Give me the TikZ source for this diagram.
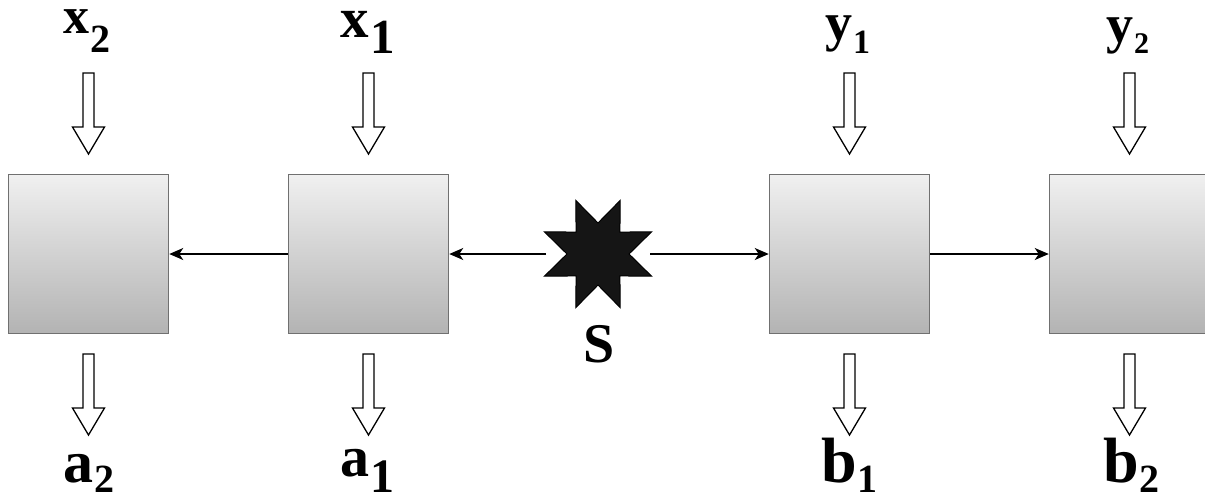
\documentclass[tikz,border=0pt]{standalone}
\usepackage{fontspec}
\setmainfont{Liberation Serif}
\usetikzlibrary{arrows.meta}
\definecolor{boxtop}{HTML}{F0F0F0}
\definecolor{boxbot}{HTML}{B3B3B3}
\definecolor{boxline}{HTML}{707070}
\definecolor{starfill}{HTML}{151515}
% main text, main size, sub text, sub size, drop, kern
\newcommand{\lbl}[6]{{\fontsize{#2}{#2}\selectfont\bfseries\strut #1}\kern#6pt\raisebox{-#5pt}{\fontsize{#4}{#4}\selectfont\bfseries\strut #3}}
\begin{document}
\begin{tikzpicture}[x=1pt,y=-1pt,
  blk/.style={draw=boxline, line width=1.5pt, top color=boxtop, bottom color=boxbot,
    minimum width=160pt, minimum height=159pt, inner sep=0pt},
  conn/.style={draw=black, line width=1.3pt, -{Stealth[length=14pt,width=12pt,inset=4pt]}},
  lab/.style={anchor=base west, inner xsep=4pt, inner ysep=4pt, outer sep=0pt},
  hollow/.pic={\draw[line width=1.3pt, fill=white, line join=miter]
     (-5.5,0) -- (5.5,0) -- (5.5,54) -- (16,54) -- (0,81) -- (-16,54) -- (-5.5,54) -- cycle;}
]
\useasboundingbox (0,0) rectangle (1205,496);
\fill[white] (0,0) rectangle (1205,496);

% boxes
\node[blk] (a2) at (88.5,254) {};
\node[blk] (a1) at (368.5,254) {};
\node[blk] (b1) at (849.5,254) {};
\begin{scope}
  \clip (1000,150) rectangle (1205,350);
  \node[blk] (b2) at (1129.5,254) {};
\end{scope}

% star source
\coordinate (sc) at (598,254);
\draw[fill=starfill, draw=black, line width=1pt, line join=miter]
  plot[samples at={0,...,15}, variable=\k]
  ({598+ifthenelse(mod(\k,2)==0,58,31)*cos(22.5+22.5*\k)},
   {254-ifthenelse(mod(\k,2)==0,58,31)*sin(22.5+22.5*\k)}) -- cycle;
\coordinate (sL) at (546,254);
\coordinate (sR) at (650,254);
\node[lab] (S) at (579,362) {\fontsize{56}{56}\selectfont\bfseries\strut S};

% connectors
\draw[conn] (sL) -- (a1.east);
\draw[conn] (a1.west) -- (a2.east);
\draw[conn] (sR) -- (b1.west);
\draw[conn] (b1.east) -- (b2.west);

% hollow arrows
\foreach \cx in {88.5,368.5,849.5,1129.5}{
  \pic at (\cx,73) {hollow};
  \pic at (\cx,354) {hollow};
}

% labels
\node[lab] (lx2) at (59,33)   {\lbl{x}{52}{2}{40}{19}{1}};
\node[lab] (lx1) at (336,37)  {\lbl{x}{57}{1}{49}{16}{2}};
\node[lab] (ly1) at (821,40)  {\lbl{y}{54}{1}{34}{13}{1}};
\node[lab] (ly2) at (1102,42) {\lbl{y}{54}{2}{30}{11}{1}};
\node[lab] (la2) at (59,482)  {\lbl{a}{60}{2}{40}{10}{1}};
\node[lab] (la1) at (336,476) {\lbl{a}{58}{1}{48}{16}{1}};
\node[lab] (lb1) at (817,482) {\lbl{b}{64}{1}{40}{10}{1}};
\node[lab] (lb2) at (1099,482){\lbl{b}{64}{2}{40}{10}{1}};
\end{tikzpicture}
\end{document}
